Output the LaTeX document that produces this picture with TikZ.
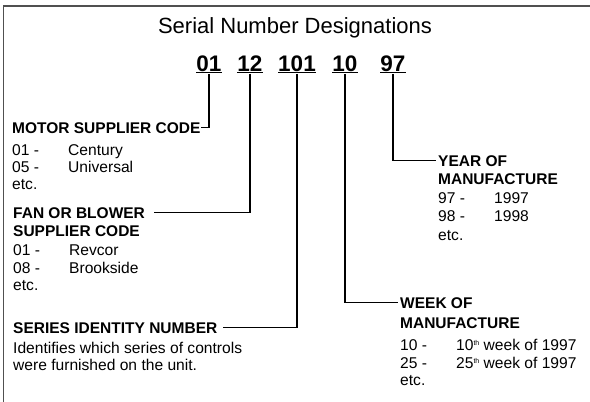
\documentclass[tikz,border=0pt]{standalone}
\usepackage{fontspec}
\setmainfont{Liberation Sans}
\definecolor{framegray}{HTML}{505050}
\newcommand{\tabk}[1]{\makebox[56pt][l]{#1}}
\newcommand{\ordsup}[1]{\raisebox{5pt}{\fontsize{7}{7}\selectfont #1}}
\tikzset{
  heading/.style={font=\fontsize{22}{26}\selectfont, anchor=base, inner sep=0pt},
  digit/.style={font=\bfseries\fontsize{22.5}{26}\selectfont, anchor=base, inner sep=0.5pt},
  label/.style={font=\bfseries\fontsize{15.5}{17}\selectfont, anchor=base west, inner sep=0pt},
  entry/.style={font=\fontsize{15.6}{17}\selectfont, anchor=base west, inner sep=0pt},
  wire/.style={line width=1.5pt}
}
\begin{document}
\begin{tikzpicture}[x=1pt, y=-1pt]
\useasboundingbox (0,0) rectangle (590,402);
\draw[framegray, line width=2pt] (3,6) -- (590,6);
\draw[framegray, line width=1.5pt] (3.5,6) -- (3.5,402);

\node[heading] (title) at (295,33) {Serial Number Designations};

% serial number groups
\node[digit] (d1) at (209,71) {\underline{01}};
\node[digit] (d2) at (250,71) {\underline{12}};
\node[digit] (d3) at (297,71) {\underline{101}};
\node[digit] (d4) at (345,71) {\underline{10}};
\node[digit] (d5) at (393,71) {\underline{97}};

% motor
\node[label] (motor) at (12,133) {MOTOR SUPPLIER CODE};
\node[entry] (m1) at (12,155) {\tabk{01 -}Century};
\node[entry] (m2) at (12,172) {\tabk{05 -}Universal};
\node[entry] (m3) at (12,189) {etc.};

% fan or blower
\node[label] (fan) at (13,218) {FAN OR BLOWER};
\node[label] (fan2) at (13,236) {SUPPLIER CODE};
\node[entry] (f1) at (13,255) {\tabk{01 -}Revcor};
\node[entry] (f2) at (13,273) {\tabk{08 -}Brookside};
\node[entry] (f3) at (13,290) {etc.};

% series
\node[label] (series) at (13,333) {SERIES IDENTITY NUMBER};
\node[entry] (s1) at (13,353) {Identifies which series of controls};
\node[entry] (s2) at (13,370) {were furnished on the unit.};

% year
\node[label] (year) at (438,166) {YEAR OF};
\node[label] (year2) at (438,184) {MANUFACTURE};
\node[entry] (y1) at (438,203) {\tabk{97 -}1997};
\node[entry] (y2) at (438,221) {\tabk{98 -}1998};
\node[entry] (y3) at (438,240) {etc.};

% week
\node[label] (week) at (400,308) {WEEK OF};
\node[label] (week2) at (400,328) {MANUFACTURE};
\node[entry] (w1) at (400,350) {\tabk{10 -}10\ordsup{th} week of 1997};
\node[entry] (w2) at (400,368) {\tabk{25 -}25\ordsup{th} week of 1997};
\node[entry] (w3) at (400,385) {etc.};

\draw[wire] (d1.south) |- (motor.east);
\draw[wire] (d2.south) |- ([xshift=9pt]fan.east);
\draw[wire] (d3.south) |- ([xshift=5pt]series.east);
\draw[wire] (d4.south) |- ([xshift=-2pt]week.west);
\draw[wire] (d5.south) |- ([xshift=-2pt]year.west);
\end{tikzpicture}
\end{document}
